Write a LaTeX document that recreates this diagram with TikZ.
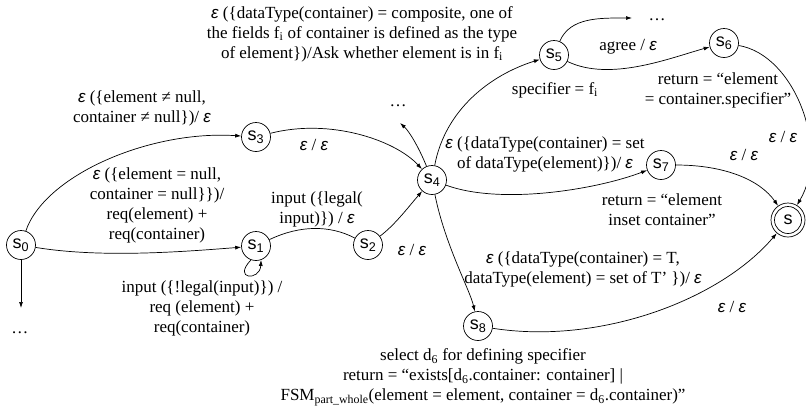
\documentclass[tikz,border=0pt]{standalone}
\usepackage{fontspec}
\setmainfont{Liberation Serif}
\setsansfont{Liberation Sans}
\usetikzlibrary{arrows.meta}
\newcommand{\eps}{{\sffamily\itshape ε}}
\begin{document}
\begin{tikzpicture}[x=1pt,y=-1pt,
  st/.style={circle,draw,line width=0.7pt,minimum size=29pt,inner sep=0pt,font=\sffamily\fontsize{18}{18}\selectfont},
  tr/.style={line width=0.7pt,-{Latex[length=6pt,width=4pt]}},
  trn/.style={line width=0.7pt},
  lbl/.style={font=\fontsize{17}{20}\selectfont,align=center,inner sep=0pt},
]
\useasboundingbox (0,0) rectangle (806,413);
% states
\node[st] (s0) at (21,245) {s\textsubscript{0}};
\node[st] (s1) at (256,246) {s\textsubscript{1}};
\node[st] (s2) at (368,245) {s\textsubscript{2}};
\node[st] (s3) at (256,137) {s\textsubscript{3}};
\node[st] (s4) at (432,180) {s\textsubscript{4}};
\node[st] (s5) at (554,55) {s\textsubscript{5}};
\node[st] (s6) at (724,43) {s\textsubscript{6}};
\node[st] (s7) at (661,165) {s\textsubscript{7}};
\node[st] (s8) at (478,326) {s\textsubscript{8}};
\node[st,minimum size=34pt] (S) at (788,220) {s};
\draw[line width=0.7pt] (S.center) circle (13.5pt);
% free ends
\coordinate (d0) at (21,308);
\coordinate (d4) at (400,123);
\coordinate (d5) at (632,18);
% transitions
\draw[tr] (s0) .. controls (45,175) and (150,130) .. (s3);
\draw[tr] (s0) .. controls (100,258) and (180,252) .. (s1);
\draw[tr] (s0) -- (d0);
\draw[tr] (s1.250) .. controls (232,280) and (260,281) .. (s1.290);
\draw[trn] (s1) .. controls (300,225) and (330,225) .. (s2);
\draw[tr] (s2) .. controls (395,225) and (410,205) .. (s4);
\draw[tr] (s3) .. controls (330,118) and (395,140) .. (s4);
\draw[tr] (s4) .. controls (420,150) and (410,132) .. (d4);
\draw[tr] (s4) .. controls (445,110) and (490,75) .. (s5);
\draw[tr] (s5) .. controls (570,17) and (600,18) .. (d5);
\draw[tr] (s5) .. controls (610,82) and (670,58) .. (s6);
\draw[tr] (s6) .. controls (795,55) and (830,150) .. (S);
\draw[tr] (s4) .. controls (500,205) and (595,190) .. (s7);
\draw[tr] (s7) .. controls (725,165) and (760,180) .. (S);
\draw[tr] (s4) .. controls (445,245) and (470,290) .. (s8);
\draw[tr] (s8) .. controls (600,345) and (720,300) .. (S);
% labels
\node[lbl] (t1) at (362,34) {\eps\ (\{dataType(container) = composite, one of\\the fields f\textsubscript{i} of container is defined as the type\\of element\})/Ask whether element is in f\textsubscript{i}};
\node[lbl] (t2) at (142,108) {\eps\ (\{element ≠ null,\\container ≠ null\})/ \eps};
\node[lbl] (t3) at (157,205) {\eps\ (\{element = null,\\container = null\}\})/\\req(element) +\\req(container)};
\node[lbl] (t4) at (314,145) {\eps\ / \eps};
\node[lbl] (t5) at (317,209) {input (\{legal(\\input)\}) / \eps};
\node[lbl] (t6) at (202,308) {input (\{!legal(input)\}) /\\req (element) +\\req(container)};
\node[lbl] (t7) at (412,250) {\eps\ / \eps};
\node[lbl] (dots0) at (20,333) {\dots};
\node[lbl] (dots4) at (398,106) {\dots};
\node[lbl] (dots5) at (657,20) {\dots};
\node[lbl] (t8) at (628,47) {agree / \eps};
\node[lbl] (t9) at (555,90) {specifier = f\textsubscript{i}};
\node[lbl] (t10) at (718,90) {return = “element\\= container.specifier”};
\node[lbl] (t11) at (783,137) {\eps\ / \eps};
\node[lbl] (t12) at (545,154) {\eps\ (\{dataType(container) = set\\of dataType(element)\})/ \eps};
\node[lbl] (t13) at (662,210) {return = “element\\inset container”};
\node[lbl] (t14) at (744,155) {\eps\ / \eps};
\node[lbl] (t15) at (583,269) {\eps\ (\{dataType(container) = T,\\dataType(element) = set of T’ \})/ \eps};
\node[lbl] (t16) at (732,307) {\eps\ / \eps};
\node[lbl] (t17) at (483,377) {select d\textsubscript{6} for defining specifier\\return = “exists[d\textsubscript{6}.container: container] |\\FSM\textsubscript{part\_whole}(element = element, container = d\textsubscript{6}.container)”};
\end{tikzpicture}
\end{document}
